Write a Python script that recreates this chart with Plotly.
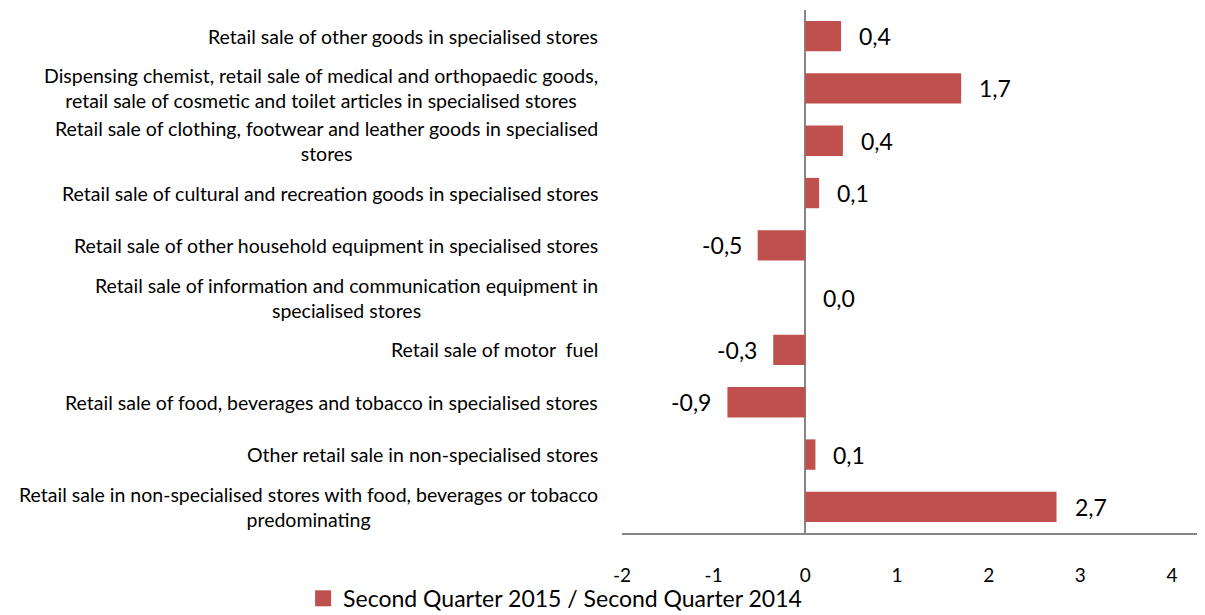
import plotly.graph_objects as go

categories = [
    "Retail sale of other goods in specialised stores",
    "Dispensing chemist, retail sale of medical and orthopaedic goods,\nretail sale of cosmetic and toilet articles in specialised stores",
    "Retail sale of clothing, footwear and leather goods in specialised\nstores",
    "Retail sale of cultural and recreation goods in specialised stores",
    "Retail sale of other household equipment in specialised stores",
    "Retail sale of information and communication equipment in\nspecialised stores",
    "Retail sale of motor  fuel",
    "Retail sale of food, beverages and tobacco in specialised stores",
    "Other retail sale in non-specialised stores",
    "Retail sale in non-specialised stores with food, beverages or tobacco\npredominating",
]
values = [0.39, 1.70, 0.41, 0.15, -0.52, 0.0, -0.35, -0.85, 0.11, 2.74]
value_labels = ["0,4", "1,7", "0,4", "0,1", "-0,5", "0,0", "-0,3", "-0,9", "0,1", "2,7"]
x_ticks = [-2, -1, 0, 1, 2, 3, 4]
series_name = "Second Quarter 2015 / Second Quarter 2014"

FONT = "Lato"
RED = "#C0504D"
GRAY = "#868686"

ids = list(range(len(categories)))

fig = go.Figure()
fig.add_trace(go.Bar(
    y=ids, x=values, orientation="h", name=series_name,
    marker=dict(color=RED, line=dict(width=0)), width=0.58,
    showlegend=False,
))
# legend entry with a larger square swatch
fig.add_trace(go.Scatter(
    x=[None], y=[None], mode="markers", name=series_name,
    marker=dict(symbol="square", size=16, color=RED), showlegend=True,
))

annotations = []
# data labels
for i, (v, t) in enumerate(zip(values, value_labels)):
    neg = v < 0
    annotations.append(dict(
        x=v, y=i, xref="x", yref="y", text=t, showarrow=False,
        xanchor="right" if neg else "left", xshift=-14 if neg else 16,
        font=dict(family=FONT, size=23, color="#000000"),
    ))
# category labels (lines centered, block right-aligned)
for i, c in enumerate(categories):
    annotations.append(dict(
        x=0, y=i, xref="paper", yref="y", text=c.replace("\n", "<br>"),
        showarrow=False, xanchor="right", yanchor="middle", align="center",
        xshift=-22,
        font=dict(family=FONT, size=19.5, color="#000000"),
    ))

fig.update_layout(
    width=1197, height=607,
    margin=dict(l=614, r=0, t=2, b=82, autoexpand=False),
    paper_bgcolor="white", plot_bgcolor="white",
    font=dict(family=FONT, color="#000000"),
    xaxis=dict(
        range=[-2, 4.36], tickvals=x_ticks, ticktext=[str(t) for t in x_ticks],
        showgrid=False, zeroline=True, zerolinecolor=GRAY, zerolinewidth=2,
        showline=True, linecolor=GRAY, linewidth=2, ticks="",
        ticklabelstandoff=24, tickfont=dict(family=FONT, size=19, color="#000000"),
    ),
    yaxis=dict(
        range=[len(categories) - 0.5, -0.5], autorange=False,
        showticklabels=False, showgrid=False, zeroline=False, showline=False,
    ),
    legend=dict(
        orientation="h", x=-0.547, xanchor="left", y=-0.125, yanchor="middle",
        font=dict(family=FONT, size=23, color="#000000"), itemwidth=30,
        bgcolor="rgba(0,0,0,0)", itemsizing="trace",
    ),
    annotations=annotations,
)

fig.write_html("out.html")
